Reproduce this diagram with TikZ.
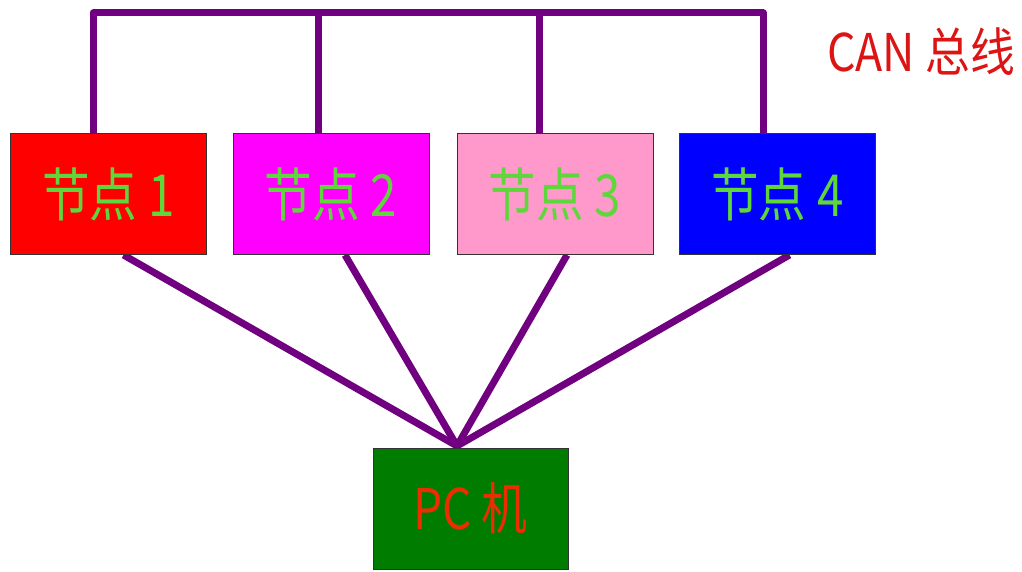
\documentclass[tikz,border=0pt]{standalone}
\usepackage{fontspec}
\setmainfont{Noto Sans CJK SC}
\usetikzlibrary{backgrounds}
\definecolor{buspurple}{RGB}{112,0,128}
\definecolor{lblgreen}{RGB}{95,215,60}
\definecolor{canred}{RGB}{220,20,20}
\definecolor{pcred}{RGB}{235,45,0}
\definecolor{pcgreen}{RGB}{0,125,0}
\definecolor{pinkfill}{RGB}{255,153,204}
\definecolor{magfill}{RGB}{255,0,255}
\definecolor{redfill}{RGB}{255,0,0}
\definecolor{bluefill}{RGB}{0,0,255}
\tikzset{
  nodebox/.style={draw=black!80, line width=1pt, inner sep=0pt,
    minimum width=196pt, minimum height=121pt,
    font=\fontsize{58}{58}\selectfont, text=lblgreen},
  wire/.style={draw=buspurple, line width=7pt, line join=round}
}
\newcommand{\lbl}[1]{\scalebox{0.82}[1]{#1}}
\begin{document}
\begin{tikzpicture}[x=1pt,y=-1pt]
\useasboundingbox (0,0) rectangle (1022,572);
\node[nodebox, fill=redfill] (n1) at (108.5,194) {\lbl{节点 1}};
\node[nodebox, fill=magfill] (n2) at (331,194) {\lbl{节点 2}};
\node[nodebox, fill=pinkfill] (n3) at (555,194) {\lbl{节点 3}};
\node[nodebox, fill=bluefill] (n4) at (777.5,194) {\lbl{节点 4}};
\node[draw=black!80, line width=1pt, fill=pcgreen, inner sep=0pt,
  minimum width=195pt, minimum height=121pt,
  font=\fontsize{56}{56}\selectfont, text=pcred] (pc) at (470.5,508.5) {\lbl{PC 机}};
\node[font=\fontsize{52}{52}\selectfont, text=canred, anchor=center] (can) at (921,52) {\scalebox{0.86}[1]{CAN 总线}};
\coordinate (b1) at (93,13);
\coordinate (b2) at (318,13);
\coordinate (b3) at (539,13);
\coordinate (b4) at (763,13);
\coordinate (hub) at (457,446);
\begin{scope}[on background layer]
  \draw[wire] (b1 |- n1.north) -- (b1) -- (b4) -- (b4 |- n4.north);
  \draw[wire] (b2) -- (b2 |- n2.north);
  \draw[wire] (b3) -- (b3 |- n3.north);
  \draw[wire] ([xshift=15pt]n1.south) -- (hub);
  \draw[wire] ([xshift=14pt]n2.south) -- (hub);
  \draw[wire] ([xshift=12pt]n3.south) -- (hub);
  \draw[wire] ([xshift=12pt]n4.south) -- (hub);
  \draw[wire] (hub) -- (pc.north -| hub);
\end{scope}
\end{tikzpicture}
\end{document}
